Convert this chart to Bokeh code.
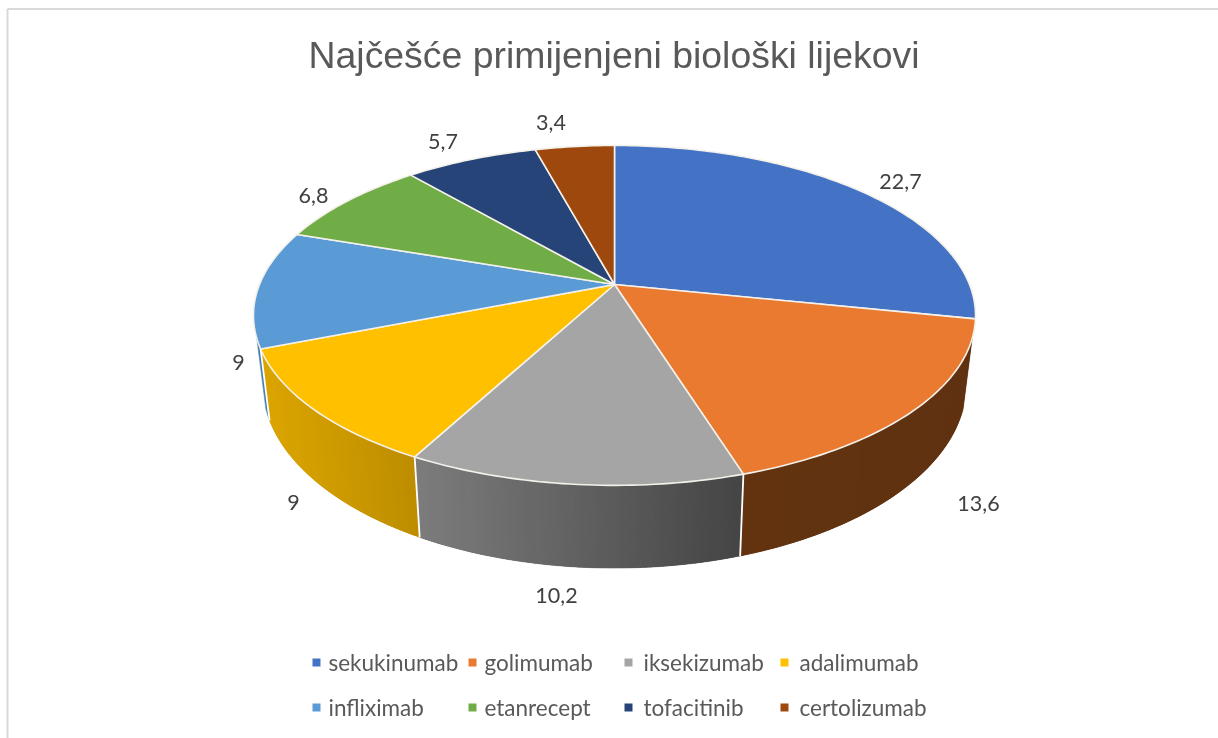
import math
from bokeh.plotting import figure
from bokeh.core.properties import value
from bokeh.embed import file_html
from bokeh.resources import INLINE

title_text = "Najčešće primijenjeni biološki lijekovi"
drugs = ["sekukinumab", "golimumab", "iksekizumab", "adalimumab",
         "infliximab", "etanrecept", "tofacitinib", "certolizumab"]
shares = [22.7, 13.6, 10.2, 9, 9, 6.8, 5.7, 3.4]
share_labels = ["22,7", "13,6", "10,2", "9", "9", "6,8", "5,7", "3,4"]
top_colors = ["#4472c4", "#ea7a30", "#a5a5a5", "#ffc000", "#5b9bd5", "#70ad47", "#264478", "#9e480e"]
side_from = [(38, 62, 110), (99, 51, 15), (124, 124, 124), (219, 165, 0), (70, 125, 175), (70, 110, 40), (25, 45, 80), (99, 51, 15)]
side_to = [(38, 62, 110), (96, 50, 17), (68, 68, 68), (189, 141, 0), (70, 125, 175), (70, 110, 40), (25, 45, 80), (99, 51, 15)]

W, H = 1218, 738
p = figure(width=W, height=H, x_range=(0, W), y_range=(H, 0), toolbar_location=None,
           output_backend="svg", min_border=0, outline_line_color=None,
           background_fill_color="white", border_fill_color="white",
           styles={"position": "fixed", "left": "0px", "top": "0px"})
p.axis.visible = False
p.grid.visible = False

# projective view of a disc (top rim and lower rim)
CX = 614
K = 0.182
TOP = dict(hub=284.0, a=164.3, b=355.0)
LOW = dict(hub=350.0, a=178.0, b=346.0)

def rim(rimdef, deg):
    t = math.radians(deg)
    c, s = math.cos(t), math.sin(t)
    d = 1 + K * c
    return CX + rimdef["b"] * s / d, rimdef["hub"] - rimdef["a"] * c / d

def hexc(rgb):
    return "#%02x%02x%02x" % tuple(rgb)

total = sum(shares)
edges = [0.0]
for v in shares:
    edges.append(edges[-1] + v / total * 360)

VIS_A, VIS_B = 108.0, 252.0

# side wall: a solid base per slice, then thin strips for the shading
bx, by, bc, sx, sy, sc = [], [], [], [], [], []
for i in range(len(shares)):
    a, b = max(edges[i], VIS_A), min(edges[i + 1], VIS_B)
    if b <= a:
        continue
    m = max(2, int(b - a))
    ts = [a + (b - a) * j / m for j in range(m + 1)]
    bx.append([rim(TOP, t)[0] for t in ts] + [rim(LOW, t)[0] for t in reversed(ts)])
    by.append([rim(TOP, t)[1] for t in ts] + [rim(LOW, t)[1] for t in reversed(ts)])
    bc.append(hexc([round((side_from[i][k] + side_to[i][k]) / 2) for k in range(3)]))
    if side_from[i] == side_to[i]:
        continue
    n = max(1, int((b - a) / 0.75))
    xa, xb = rim(TOP, a)[0], rim(TOP, b)[0]
    for j in range(n):
        t0 = a + (b - a) * j / n
        t1 = min(b, a + (b - a) * (j + 1) / n + 0.6)
        x0, y0 = rim(TOP, t0)
        x1, y1 = rim(TOP, t1)
        x2, y2 = rim(LOW, t1)
        x3, y3 = rim(LOW, t0)
        f = (x0 + x1 - 2 * min(xa, xb)) / 2 / max(1.0, abs(xb - xa))
        f = min(1.0, max(0.0, f))
        sx.append([x0, x1, x2, x3])
        sy.append([y0, y1, y2, y3])
        sc.append(hexc([round(side_from[i][k] + (side_to[i][k] - side_from[i][k]) * f) for k in range(3)]))
p.patches(bx, by, fill_color=bc, line_color=bc, line_width=0.5)
p.patches(sx, sy, fill_color=sc, line_color=None)

# white separators on the wall
for e in edges[1:-1]:
    if VIS_A < e < VIS_B:
        x0, y0 = rim(TOP, e)
        x1, y1 = rim(LOW, e)
        p.line([x0, x1], [y0, y1], line_color="white", line_width=1.8)

# top faces
fx, fy = [], []
for i in range(len(shares)):
    n = max(2, int(edges[i + 1] - edges[i]))
    pts = [rim(TOP, edges[i] + (edges[i + 1] - edges[i]) * j / n) for j in range(n + 1)]
    fx.append([CX] + [q[0] for q in pts])
    fy.append([TOP["hub"]] + [q[1] for q in pts])
p.patches(fx, fy, fill_color=top_colors, line_color="#f4f1ea", line_width=1.6, line_join="round")

# value labels
label_x = [900, 978, 556, 293, 238, 313, 442.5, 550.5]
label_y = [181, 503, 595, 502, 362, 195, 141, 122]
p.text(label_x, label_y, text=share_labels, text_font=value("Lato"), text_font_size="21.5px",
       text_color="#404040", text_align="center", text_baseline="middle")

# title
p.text([613.5], [54], text=[title_text], text_font=value("Liberation Sans"), text_font_size="37.4px",
       text_color="#595959", text_align="center", text_baseline="middle")

# legend
marker_x = [316, 472, 628, 784, 316, 472, 628, 784]
name_x = [328, 484, 643, 799, 328, 484, 643, 799]
row_y = [662, 662, 662, 662, 707, 707, 707, 707]
p.scatter(marker_x, row_y, marker="square", size=8, fill_color=top_colors, line_color=None)
p.text(name_x, row_y, text=drugs, text_font=value("Lato"), text_font_size="22.5px",
       text_color="#595959", text_align="left", text_baseline="middle")

# chart frame (open at the right and bottom page edges)
p.line([7, 7], [8.5, H], line_color="#d9d9d9", line_width=2)
p.line([7, W], [8.5, 8.5], line_color="#d9d9d9", line_width=2)

open("out.html", "w").write(file_html(p, INLINE))
